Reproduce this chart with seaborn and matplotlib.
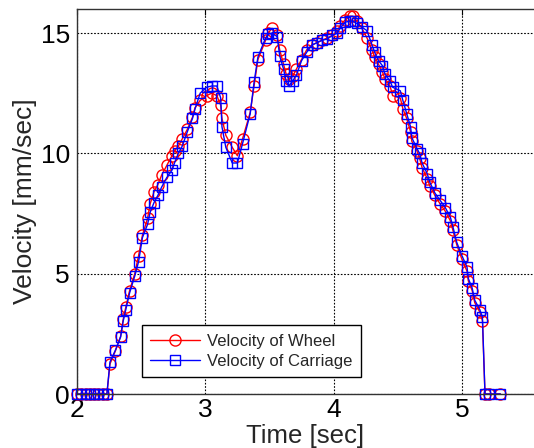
import numpy as np
import pandas as pd
import seaborn as sns
import matplotlib.pyplot as plt

sns.set_theme(style="white")
plt.rcParams["font.family"] = ["Liberation Sans", "DejaVu Sans"]

# sample times [sec]
time = [
    2.000, 2.033, 2.067, 2.100, 2.133, 2.167, 2.200, 2.233,
    2.257, 2.30, 2.34, 2.36, 2.38, 2.41, 2.45, 2.48, 2.51, 2.55,
    2.57, 2.60, 2.63, 2.66, 2.70, 2.74, 2.76, 2.79, 2.82, 2.86,
    2.90, 2.92, 2.96, 3.01, 3.05, 3.09, 3.12, 3.13, 3.16, 3.21,
    3.25, 3.29, 3.35, 3.38, 3.41, 3.47, 3.49, 3.52, 3.56, 3.58,
    3.61, 3.63, 3.65, 3.68, 3.71, 3.75, 3.79, 3.83, 3.87, 3.91,
    3.95, 3.99, 4.03, 4.05, 4.09, 4.13, 4.15, 4.18, 4.22, 4.26,
    4.30, 4.32, 4.35, 4.38, 4.40, 4.44, 4.46, 4.52, 4.54, 4.57,
    4.60, 4.61, 4.65, 4.67, 4.69, 4.73, 4.75, 4.79, 4.83, 4.87,
    4.91, 4.93, 4.96, 5.00, 5.04, 5.05, 5.08, 5.10, 5.14, 5.16,
    5.18, 5.21, 5.30,
]

# velocity of wheel [mm/sec]
wheel = [
    0, 0, 0, 0, 0, 0, 0, 0,
    1.25, 1.8, 2.4, 3.1, 3.6, 4.3, 5.0, 5.75, 6.6, 7.3,
    7.9, 8.4, 8.7, 9.1, 9.5, 9.9, 10.1, 10.3, 10.6, 11.0,
    11.5, 11.9, 12.2, 12.4, 12.5, 12.4, 12.0, 11.45, 10.75, 10.25,
    9.9, 10.6, 11.7, 12.8, 13.9, 14.7, 15.0, 15.2, 14.9, 14.3,
    13.7, 13.3, 13.1, 13.2, 13.5, 13.9, 14.3, 14.5, 14.6, 14.7,
    14.8, 14.9, 15.1, 15.3, 15.55, 15.7, 15.7, 15.5, 15.2, 14.8,
    14.3, 14.0, 13.7, 13.4, 13.1, 12.8, 12.4, 12.3, 11.85, 11.45,
    10.9, 10.5, 10.1, 9.8, 9.4, 8.95, 8.65, 8.25, 7.9, 7.6,
    7.2, 6.8, 6.2, 5.6, 5.1, 4.7, 4.3, 3.8, 3.4, 3.05,
    0, 0, 0,
]

# velocity of carriage [mm/sec]
carriage = [
    0, 0, 0, 0, 0, 0, 0, 0,
    1.33, 1.83, 2.37, 3.03, 3.5, 4.2, 4.9, 5.5, 6.5, 7.05,
    7.55, 7.95, 8.25, 8.6, 9.0, 9.3, 9.6, 10.0, 10.3, 10.9,
    11.45, 11.85, 12.5, 12.75, 12.8, 12.8, 12.3, 11.1, 10.25, 9.6,
    9.6, 10.4, 11.65, 12.95, 14.0, 14.8, 14.95, 15.0, 14.85, 14.05,
    13.5, 13.0, 12.8, 13.0, 13.25, 13.85, 14.2, 14.5, 14.6, 14.7,
    14.75, 14.9, 15.0, 15.2, 15.45, 15.5, 15.5, 15.4, 15.25, 15.1,
    14.5, 14.2, 13.85, 13.65, 13.3, 13.0, 12.75, 12.6, 12.2, 11.65,
    11.1, 10.65, 10.2, 10.0, 9.6, 9.15, 8.8, 8.35, 8.05, 7.75,
    7.35, 6.95, 6.3, 5.75, 5.27, 4.8, 4.4, 3.9, 3.5, 3.2,
    0, 0, 0,
]

df = pd.DataFrame({"time": time, "wheel": wheel, "carriage": carriage})

fig = plt.figure(figsize=(5.34, 4.48), dpi=100)
ax = fig.add_axes([77 / 534, 54 / 448, 457 / 534, 385 / 448])

sns.lineplot(data=df, x="time", y="wheel", ax=ax, sort=False, estimator=None,
             color="red", lw=1, marker="o", markersize=8,
             markerfacecolor="none", markeredgecolor="red", markeredgewidth=1,
             label="Velocity of Wheel")
sns.lineplot(data=df, x="time", y="carriage", ax=ax, sort=False, estimator=None,
             color="blue", lw=1, marker="s", markersize=7.5,
             markerfacecolor="none", markeredgecolor="blue", markeredgewidth=1,
             label="Velocity of Carriage")

ax.set_xlim(2, 2 + 457 / 128.3)
ax.set_ylim(0, 16)
ax.set_xticks([2, 3, 4, 5])
ax.set_yticks([0, 5, 10, 15])
ax.grid(True, color="black", linestyle=(0, (1.5, 1.5)), linewidth=0.8)
for line in ax.get_lines():
    line.set_clip_on(False)

for side in ["left", "bottom", "top"]:
    ax.spines[side].set_color("#333333")
    ax.spines[side].set_linewidth(1)
ax.spines["right"].set_visible(False)

ax.tick_params(direction="in", length=4, width=0.8, labelsize=19,
               colors="black", top=True)
ax.tick_params(axis="y", pad=5)
ax.tick_params(axis="x", pad=3)
ax.set_xlabel("Time [sec]", fontsize=18.5, labelpad=1)
ax.set_ylabel("Velocity [mm/sec]", fontsize=19, labelpad=3)

leg = ax.legend(loc="lower left", bbox_to_anchor=(0.142, 0.044),
                borderaxespad=0, fontsize=12, handlelength=3.0,
                handletextpad=0.4, labelspacing=0.3, borderpad=0.5,
                fancybox=False, framealpha=1, edgecolor="black")
leg.get_frame().set_linewidth(1)

plt.savefig("out.png", dpi=100)
plt.close()
